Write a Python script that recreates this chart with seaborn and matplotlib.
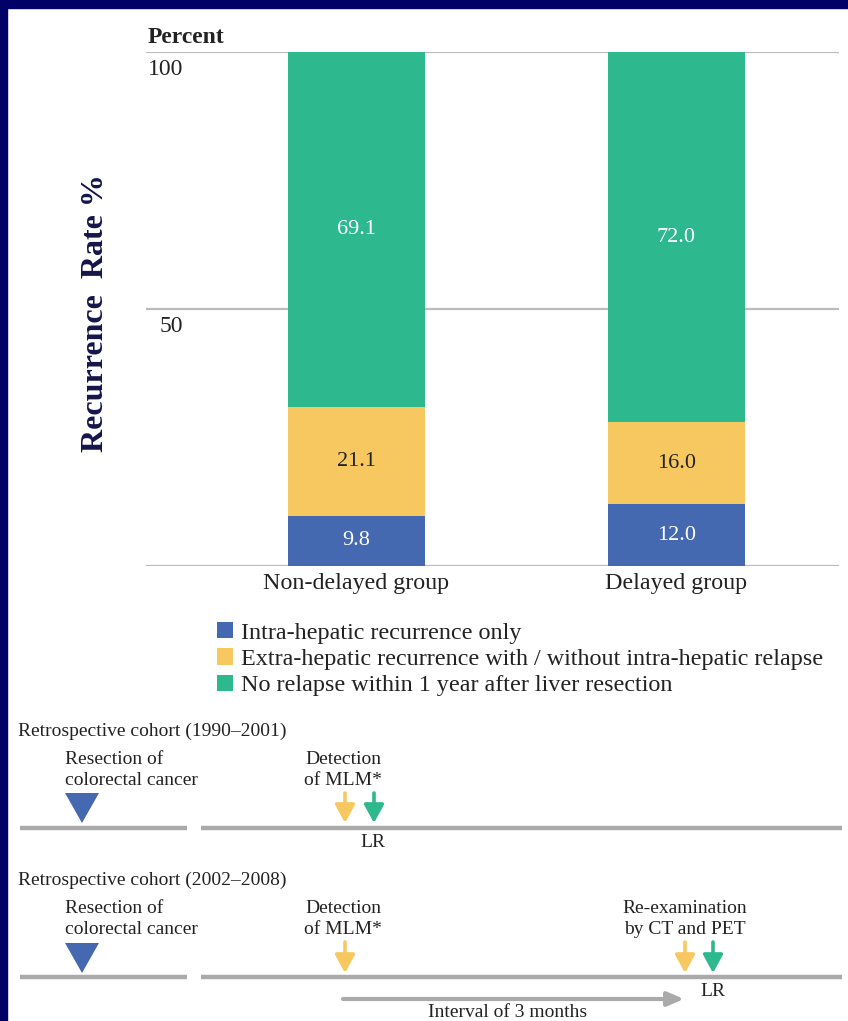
import numpy as np
import matplotlib
matplotlib.use("Agg")
import matplotlib.pyplot as plt
from matplotlib.patches import Patch, Polygon, Rectangle
from matplotlib.transforms import blended_transform_factory, offset_copy
import seaborn as sns

# ---- data -------------------------------------------------------------
groups = ["Non-delayed group", "Delayed group"]
intra_hepatic = [9.8, 12.0]
extra_hepatic = [21.1, 16.0]
no_relapse = [69.1, 72.0]
series_labels = [
    "Intra-hepatic recurrence only",
    "Extra-hepatic recurrence with / without intra-hepatic relapse",
    "No relapse within 1 year after liver resection",
]
y_ticks = [50, 100]
y_tick_labels = ["50", "100"]

# ---- style ------------------------------------------------------------
sns.set_theme(style="white")
plt.rcParams["font.family"] = ["Liberation Serif", "DejaVu Serif"]

BLUE = "#4569B1"
YELLOW = "#F7C85F"
GREEN = "#2EB88D"
GRID = "#BBBBBB"
TXT = "#222222"
NAVY = "#000066"
TITLE_NAVY = "#15154A"
LINE_GREY = "#AAAAAA"

W, H = 848, 1021
fig = plt.figure(figsize=(W / 100, H / 100), dpi=100)
fig.patch.set_facecolor("white")


def fx(px):
    return px / W


def fy(py):
    return 1 - py / H


# overlay axes in pixel units (y downwards) for the annotations and diagram
ov = fig.add_axes([0, 0, 1, 1])
ov.set_xlim(0, W)
ov.set_ylim(H, 0)
ov.axis("off")

# frame strips
fig.add_artist(Rectangle((0, 0), fx(7), 1, transform=fig.transFigure,
                         color=NAVY, zorder=10))
fig.add_artist(Rectangle((0, fy(8)), 1, 8 / H, transform=fig.transFigure,
                         color=NAVY, zorder=10))

# ---- stacked bar chart ------------------------------------------------
ax = fig.add_axes([fx(146), fy(566), fx(839) - fx(146), (566 - 52) / H])
ax.set_facecolor("none")

intra = np.array(intra_hepatic)
extra = np.array(extra_hepatic)
norel = np.array(no_relapse)
tops = [intra + extra + norel, intra + extra, intra]
colors = [GREEN, YELLOW, BLUE]
bar_w = 0.428
for top, c in zip(tops, colors):
    sns.barplot(x=groups, y=top, color=c, width=bar_w, saturation=1,
                linewidth=0, ax=ax, zorder=2)

ax.set_xlim(-0.658, 1.508)
ax.set_ylim(0, 100)
for v in [0] + y_ticks:
    ax.axhline(v, color=GRID, lw=1.6, zorder=1)
for s in ax.spines.values():
    s.set_visible(False)
ax.set_yticks([])
ax.set_ylabel("")
ax.tick_params(axis="x", length=0, pad=5, labelsize=17.3, labelcolor=TXT)

# y tick labels sit just below their gridlines
btr = blended_transform_factory(ax.transAxes, ax.transData)
btr_off = offset_copy(btr, fig=fig, x=0, y=-23, units="dots")
for v, lab in zip(y_ticks, y_tick_labels):
    ax.text((183 - 146) / 693, v, lab, transform=btr_off, ha="right",
            va="baseline", fontsize=17, color=TXT)
ov.text(148, 43, "Percent", fontsize=17, fontweight="bold", color=TXT,
        ha="left", va="baseline")

# segment values
bottoms = [np.zeros_like(intra), intra, intra + extra]
vals = [intra, extra, norel]
lab_colors = ["white", TXT, "white"]
for b, v, lc in zip(bottoms, vals, lab_colors):
    for i in range(len(groups)):
        ax.text(i, b[i] + v[i] / 2, f"{v[i]:.1f}", ha="center", va="center",
                fontsize=16, color=lc, zorder=3)

ov.text(96, 313, "Recurrence  Rate %", rotation=90, fontsize=23,
        fontweight="bold", color=TITLE_NAVY, ha="center", va="center")

handles = [Patch(facecolor=c, edgecolor="none") for c in [BLUE, YELLOW, GREEN]]
fig.legend(handles, series_labels, loc="upper left",
           bbox_to_anchor=(fx(217), fy(622)), frameon=False, borderpad=0,
           borderaxespad=0, fontsize=17.4, labelcolor=TXT, handlelength=0.65,
           handleheight=0.65, handletextpad=0.35, labelspacing=0.2)

# ---- timeline diagrams ------------------------------------------------
FS = 14


def arrow_down(x, y0, y1, color):
    ov.annotate("", xy=(x, y1), xytext=(x, y0),
                arrowprops=dict(arrowstyle="-|>,head_width=0.3,head_length=0.55",
                                lw=2.6, color=color, shrinkA=0, shrinkB=0,
                                mutation_scale=20))


def timeline(title, title_y, text_y, mark_top, line_y):
    ov.text(18, title_y, title, fontsize=FS, color=TXT, ha="left",
            va="center")
    ov.text(65, text_y, "Resection of\ncolorectal cancer", fontsize=FS,
            color=TXT, ha="left", va="center", linespacing=1.25)
    ov.text(343, text_y, "Detection\nof MLM*", fontsize=FS, color=TXT,
            ha="center", va="center", linespacing=1.25)
    ov.add_patch(Polygon([(65, mark_top), (99, mark_top), (82, mark_top + 30)],
                         closed=True, color=BLUE, lw=0))
    ov.plot([20, 187], [line_y, line_y], color=LINE_GREY, lw=3.2,
            solid_capstyle="butt")
    ov.plot([201, 842], [line_y, line_y], color=LINE_GREY, lw=3.2,
            solid_capstyle="butt")


# first cohort
timeline("Retrospective cohort (1990\u20132001)", 731, 770, 793, 828)
arrow_down(345, 793, 823, YELLOW)
arrow_down(374, 793, 823, GREEN)
ov.text(373, 842, "LR", fontsize=FS, color=TXT, ha="center", va="center")

# second cohort
timeline("Retrospective cohort (2002\u20132008)", 880, 919, 943, 977)
arrow_down(345, 942, 973, YELLOW)
ov.text(685, 919, "Re-examination\nby CT and PET", fontsize=FS, color=TXT,
        ha="center", va="center", linespacing=1.25)
arrow_down(685, 942, 973, YELLOW)
arrow_down(713, 942, 973, GREEN)
ov.text(713, 991, "LR", fontsize=FS, color=TXT, ha="center", va="center")
ov.annotate("", xy=(684, 999), xytext=(343, 999),
            arrowprops=dict(arrowstyle="-|>,head_width=0.3,head_length=0.7",
                            lw=3, color=LINE_GREY, shrinkA=0, shrinkB=0,
                            mutation_scale=14))
ov.text(508, 1012, "Interval of 3 months", fontsize=FS, color=TXT,
        ha="center", va="center")

fig.savefig("out.png", dpi=100, facecolor="white")
